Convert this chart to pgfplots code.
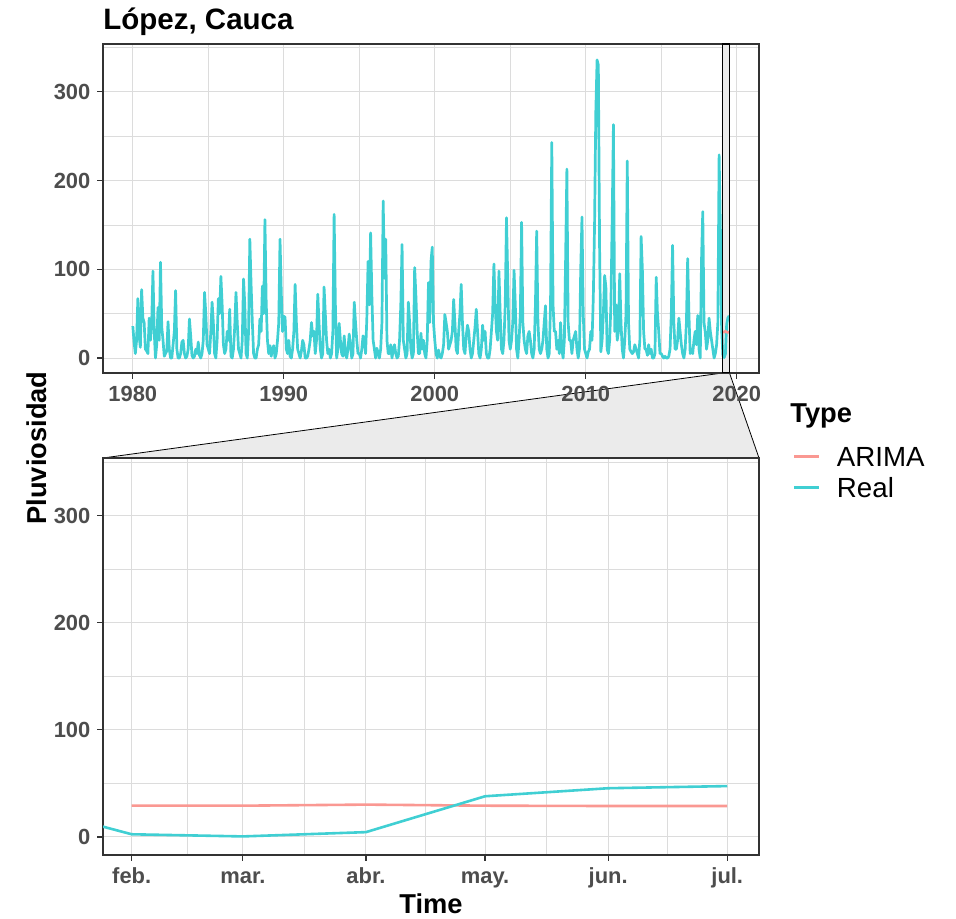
\documentclass[border=0pt]{standalone}
\usepackage{fontspec}
\setmainfont{Liberation Sans}
\usepackage{pgfplots}
\usepackage{pgfplotstable}
\pgfplotsset{compat=1.18}
\definecolor{realc}{RGB}{64,207,211}
\definecolor{arimac}{RGB}{250,152,146}
\definecolor{gridc}{RGB}{220,220,220}
\definecolor{bordc}{RGB}{51,51,51}
\definecolor{tickc}{RGB}{77,77,77}
\definecolor{zoomc}{RGB}{235,235,235}

% monthly rainfall, Jan 1980 - Jul 2019 (one year per line)
\pgfplotstableread[row sep=\\]{
v\\
36\\18\\5\\20\\67\\25\\12\\77\\45\\40\\10\\8\\
5\\45\\20\\40\\98\\30\\0\\15\\57\\20\\108\\35\\
20\\2\\5\\8\\41\\10\\0\\0\\15\\30\\76\\10\\
0\\0\\5\\18\\20\\5\\0\\2\\10\\44\\25\\3\\
0\\2\\10\\5\\18\\3\\0\\5\\20\\74\\50\\15\\
10\\5\\30\\63\\40\\5\\0\\20\\67\\50\\92\\60\\
15\\5\\10\\30\\20\\55\\2\\0\\10\\35\\74\\40\\
10\\5\\0\\20\\89\\60\\5\\0\\30\\134\\83\\40\\
5\\0\\0\\10\\15\\44\\30\\81\\50\\156\\63\\20\\
5\\14\\2\\10\\14\\0\\5\\20\\40\\134\\74\\30\\
47\\46\\10\\5\\20\\2\\0\\10\\30\\83\\40\\10\\
5\\0\\8\\20\\15\\0\\0\\2\\10\\20\\40\\25\\
30\\5\\20\\72\\40\\10\\0\\5\\80\\50\\20\\5\\
10\\0\\5\\30\\162\\60\\0\\10\\39\\20\\5\\2\\
25\\5\\0\\10\\27\\15\\0\\5\\63\\40\\20\\5\\
5\\0\\10\\25\\20\\5\\45\\109\\60\\141\\70\\20\\
10\\0\\11\\5\\0\\10\\40\\177\\90\\134\\20\\5\\
5\\15\\0\\10\\15\\5\\0\\2\\20\\60\\128\\20\\
10\\0\\5\\63\\40\\10\\0\\5\\102\\70\\30\\5\\
5\\28\\10\\20\\5\\0\\20\\85\\40\\109\\125\\40\\
20\\5\\0\\9\\2\\0\\5\\15\\49\\40\\30\\10\\
15\\20\\30\\66\\40\\10\\5\\30\\50\\83\\40\\10\\
5\\25\\37\\30\\10\\0\\5\\20\\35\\55\\30\\5\\
0\\10\\37\\20\\30\\5\\0\\0\\10\\30\\50\\106\\
60\\30\\20\\98\\50\\10\\5\\20\\60\\158\\90\\20\\
10\\20\\40\\99\\60\\10\\0\\20\\50\\153\\40\\20\\
10\\5\\25\\30\\20\\5\\0\\10\\60\\143\\40\\10\\
5\\10\\20\\40\\59\\10\\0\\5\\60\\243\\60\\30\\
30\\10\\20\\5\\40\\10\\0\\20\\112\\213\\40\\20\\
20\\5\\20\\25\\30\\10\\0\\10\\100\\159\\50\\10\\
5\\0\\7\\10\\30\\20\\68\\150\\278\\336\\330\\124\\
7\\20\\50\\93\\80\\10\\5\\20\\60\\156\\263\\30\\
60\\20\\30\\95\\40\\10\\0\\20\\50\\222\\40\\10\\
7\\5\\7\\15\\10\\5\\0\\20\\137\\100\\30\\10\\
10\\3\\15\\5\\10\\0\\0\\5\\91\\50\\30\\5\\
5\\2\\0\\2\\0\\0\\2\\10\\50\\127\\40\\10\\
10\\20\\45\\30\\15\\5\\0\\10\\40\\112\\50\\5\\
10\\5\\20\\30\\15\\48\\10\\0\\110\\165\\40\\29\\
10\\20\\45\\30\\20\\10\\0\\5\\15\\40\\229\\147\\
33\\2.5\\0.5\\4.5\\38\\45.5\\47.5\\
}\realtop

\pgfplotsset{
  panel/.style={
    scale only axis, width=328bp,
    ymin=-16.85, ymax=353.9,
    ytick={0,100,200,300}, minor ytick={50,150,250,350},
    grid=both,
    major grid style={draw=gridc, line width=0.5bp},
    minor grid style={draw=gridc, line width=0.4bp},
    axis line style={draw=bordc, line width=0.6bp},
    tick align=outside,
    xtick pos=left, ytick pos=left,
    major tick length=2.8bp, minor tick length=0pt,
    tick style={draw=bordc, line width=0.6bp},
    tick label style={font=\fontsize{11}{13}\selectfont\bfseries, text=tickc},
    xticklabel style={text height=8bp, text depth=0pt},
    /pgf/number format/assume math mode=true,
  }
}

\begin{document}
\begin{tikzpicture}
\useasboundingbox (0bp,0bp) rectangle (478bp,459.5bp);
% zoom connector
\filldraw[fill=zoomc, draw=black, line width=0.4bp]
  (361.3bp,273bp) -- (51.5bp,230.5bp) -- (379.5bp,230.5bp) -- (364.75bp,273bp) -- cycle;

\begin{axis}[panel, at={(51.5bp,273bp)}, anchor=south west, height=164.5bp,
  xmin=1978.025, xmax=2021.475,
  xtick={1980,1990,2000,2010,2020}, xticklabels={1980,1990,2000,2010,2020},
  minor xtick={1985,1995,2005,2015}]
  \fill[zoomc] (axis cs:2019.066,-16.85) rectangle (axis cs:2019.52,353.9);
  \addplot[realc, line width=1.35bp, line join=round] table[x expr=1980+\coordindex/12, y=v] {\realtop};
  \addplot[arimac, line width=1.3bp] coordinates {(2019.0833,29.2)(2019.1667,29.2)(2019.25,30.2)(2019.3333,29.2)(2019.4167,28.9)(2019.5,28.9)};
  \draw[black, line width=0.6bp] (axis cs:2019.066,-16.85) rectangle (axis cs:2019.52,353.9);
\end{axis}

\begin{axis}[panel, at={(51.5bp,32bp)}, anchor=south west, height=198.5bp,
  xmin=-7.23, xmax=158,
  xtick={0,28,59,89,120,150}, xticklabels={feb.,mar.,abr.,may.,jun.,jul.},
  minor xtick={14,43.5,74,104.5,135},
  legend cell align=left,
  legend style={at={(1.0518,1.0302)}, anchor=north west, draw=none, fill=none,
    inner sep=0pt, outer sep=0pt, row sep=2.5bp, column sep=8bp,
    font=\fontsize{13.9}{16}\selectfont,
    nodes={inner sep=0pt, text height=10bp, text depth=3bp}},
  legend image code/.code={\draw[#1, line width=1.5bp] (0bp,1.25bp) -- (12.5bp,1.25bp);}]
  \addplot[arimac, line width=1.3bp, line join=round] coordinates {(0,29.2)(28,29.2)(59,30.2)(89,29.2)(120,28.9)(150,28.9)};
  \addlegendentry{ARIMA}
  \addplot[realc, line width=1.3bp, line join=round] coordinates {(-31,33)(0,2.5)(28,0.5)(59,4.5)(89,38)(120,45.5)(150,47.5)};
  \addlegendentry{Real}
\end{axis}

\node[anchor=base west, inner sep=0pt, font=\fontsize{14.8}{17}\selectfont\bfseries] at (51.5bp,444.75bp) {López, Cauca};
\node[anchor=base, rotate=90, inner sep=0pt, font=\fontsize{13.7}{16}\selectfont\bfseries] at (23bp,235.5bp) {Pluviosidad};
\node[anchor=base, inner sep=0pt, font=\fontsize{13.7}{16}\selectfont\bfseries] at (215.5bp,3bp) {Time};
\node[anchor=base west, inner sep=0pt, font=\fontsize{13.7}{16}\selectfont\bfseries] at (395bp,248bp) {Type};
\end{tikzpicture}
\end{document}
